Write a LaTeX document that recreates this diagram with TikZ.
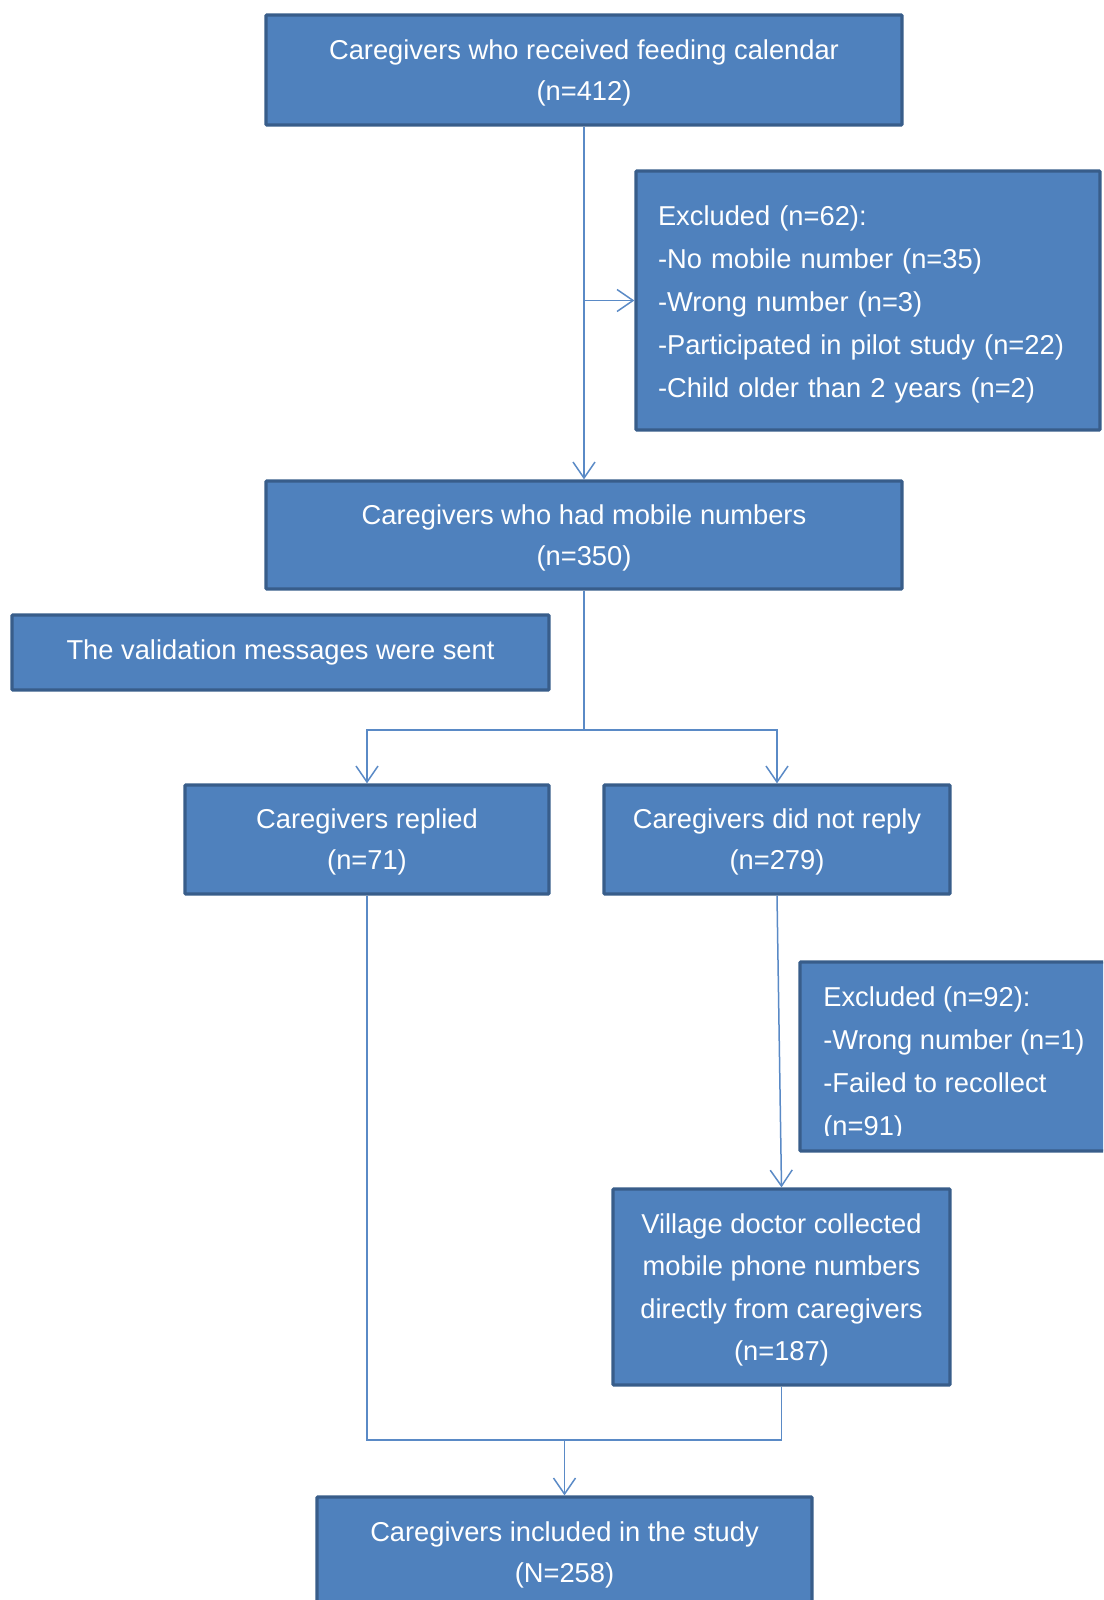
\documentclass[tikz,border=0pt]{standalone}
\usepackage{fontspec}
\setmainfont{Liberation Sans}
\usetikzlibrary{arrows.meta}

\definecolor{boxfill}{HTML}{4F81BD}
\definecolor{boxline}{HTML}{385D8A}
\definecolor{flowline}{HTML}{5A8AC6}

\tikzset{every picture/.style={line width=0.75pt}}
\tikzset{
  box/.style={draw=boxline, line width=3.3pt, fill=boxfill, text=white, rounded corners=1pt,
    font=\fontsize{27.3}{41}\selectfont, align=center, inner sep=0pt},
  multibox/.style={box, text depth=-2.5pt},
  exbox/.style={box, align=left, inner xsep=22pt, font=\fontsize{27.3}{43}\selectfont,
    execute at begin node={\rule{0pt}{28pt}}},
  line/.style={draw=flowline, line width=1.5pt},
  flow/.style={line, -{Straight Barb[length=16pt,width=22pt,line width=1.5pt]}}
}

\begin{document}
\begin{tikzpicture}[x=1pt,y=1pt,yscale=-1,xscale=1]
	\useasboundingbox (0,0) rectangle (1103,1600);
	\clip (0,0) rectangle (1103,1600);

	% Boxes
	\node[multibox, minimum width=636, minimum height=110] (recv) at (584,70) {Caregivers who received feeding calendar\\(n=412)};
	\node[exbox, minimum width=464, minimum height=259, text width=420] (excl1) at (868,300.5) {Excluded (n=62):\\-No mobile number (n=35)\\-Wrong number (n=3)\\-Participated in pilot study (n=22)\\-Child older than 2 years (n=2)};
	\node[multibox, minimum width=636, minimum height=108] (had) at (584,535) {Caregivers who had mobile numbers\\(n=350)};
	\node[box, minimum width=537, minimum height=75] (valid) at (280.5,652.5) {The validation messages were sent};
	\node[multibox, minimum width=364, minimum height=109] (replied) at (367,839.5) {Caregivers replied\\(n=71)};
	\node[multibox, minimum width=346, minimum height=109] (noreply) at (777,839.5) {Caregivers did not reply\\(n=279)};
	\node[box, minimum width=310, minimum height=189] (excl2) at (955,1056.5) {};
	\begin{scope}
		\clip (800,962) rectangle (1103,1135);
		\node[anchor=north west, text=white, align=left, inner sep=0pt,
		  font=\fontsize{27.3}{43}\selectfont] (excl2txt) at (823,986) {Excluded (n=92):\\-Wrong number (n=1)\\-Failed to recollect\\(n=91)};
	\end{scope}
	\node[multibox, minimum width=337, minimum height=196, text depth=-4pt, font=\fontsize{27.3}{42.5}\selectfont] (village) at (781.5,1287) {Village doctor collected\\mobile phone numbers\\directly from caregivers\\(n=187)};
	\node[multibox, minimum width=495, minimum height=110] (final) at (564.5,1552) {Caregivers included in the study\\(N=258)};

	% Connectors
	\coordinate (split) at (584,730);
	\coordinate (merge) at (564.5,1440);
	\draw[flow] (recv.south) -- (had.north);
	\draw[flow] (recv.south |- excl1.west) -- (excl1.west);
	\draw[line] (had.south) -- (split);
	\draw[flow] (split) -| (replied.north);
	\draw[flow] (split) -| (noreply.north);
	\draw[flow] (noreply.south) -- (village.north);
	\draw[line] (replied.south) |- (merge) -| (village.south);
	\draw[flow] (merge) -- (final.north);
\end{tikzpicture}
\end{document}
